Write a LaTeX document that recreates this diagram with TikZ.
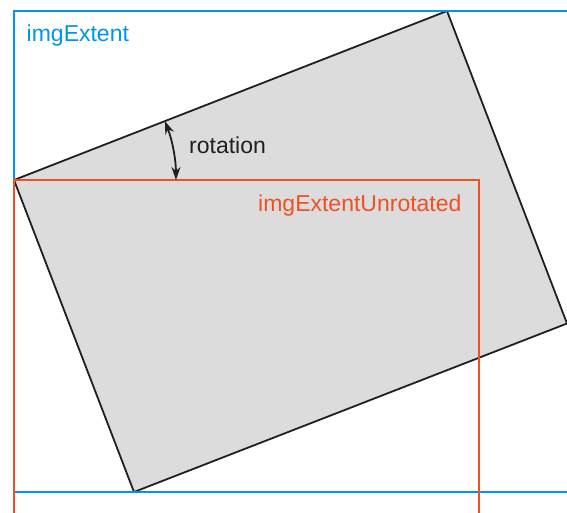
\documentclass[tikz,border=0pt]{standalone}
\usepackage{fontspec}
\setmainfont{Liberation Sans}
\usetikzlibrary{arrows.meta}
\definecolor{extblue}{RGB}{0,150,230}
\definecolor{unrotred}{RGB}{240,80,35}
\definecolor{imggray}{RGB}{220,220,220}
\definecolor{inkdark}{RGB}{35,31,32}
\tikzset{
  lbl/.style={inner sep=0pt, anchor=base west, font=\fontsize{23}{27}\selectfont},
  imgframe/.style={draw=inkdark, line width=1.8pt, line join=miter},
  extframe/.style={draw=extblue, line width=2.2pt},
  unrotframe/.style={draw=unrotred, line width=2.2pt},
  angarrow/.style={draw=inkdark, line width=1.8pt, {Stealth[length=13pt,width=9pt]}-{Stealth[length=13pt,width=9pt]}}
}
\begin{document}
\begin{tikzpicture}[x=1pt, y=-1pt]
  \useasboundingbox (0,0) rectangle (567,512);
  \clip (0,0) rectangle (567,512);
  % corners of the rotated image
  \coordinate (A) at (14,180);
  \coordinate (B) at (447,11);
  \coordinate (C) at (567,323.5);
  \coordinate (D) at (134,492);
  \fill[imggray] (A) -- (B) -- (C) -- (D) -- cycle;
  \draw[imgframe] (A) -- (B) -- (C) -- (D) -- cycle;
  % outer extent
  \draw[extframe] (600,11) -- (14,11) -- (14,492) -- (600,492);
  % unrotated extent
  \draw[unrotframe] (14,540) -- (14,180) -- (478.7,180) -- (478.7,540);
  % rotation angle
  \coordinate (R1) at (164.9,121.1);
  \draw[angarrow] (R1) arc[start angle=-21.3, end angle=0, radius=162];
  \node[lbl, text=extblue] (ext) at (26.5,41.5) {imgExtent};
  \node[lbl, text=inkdark] (rot) at (189,153.3) {rotation};
  \node[lbl, text=unrotred] (unrot) at (258,211.7) {imgExtentUnrotated};
\end{tikzpicture}
\end{document}
